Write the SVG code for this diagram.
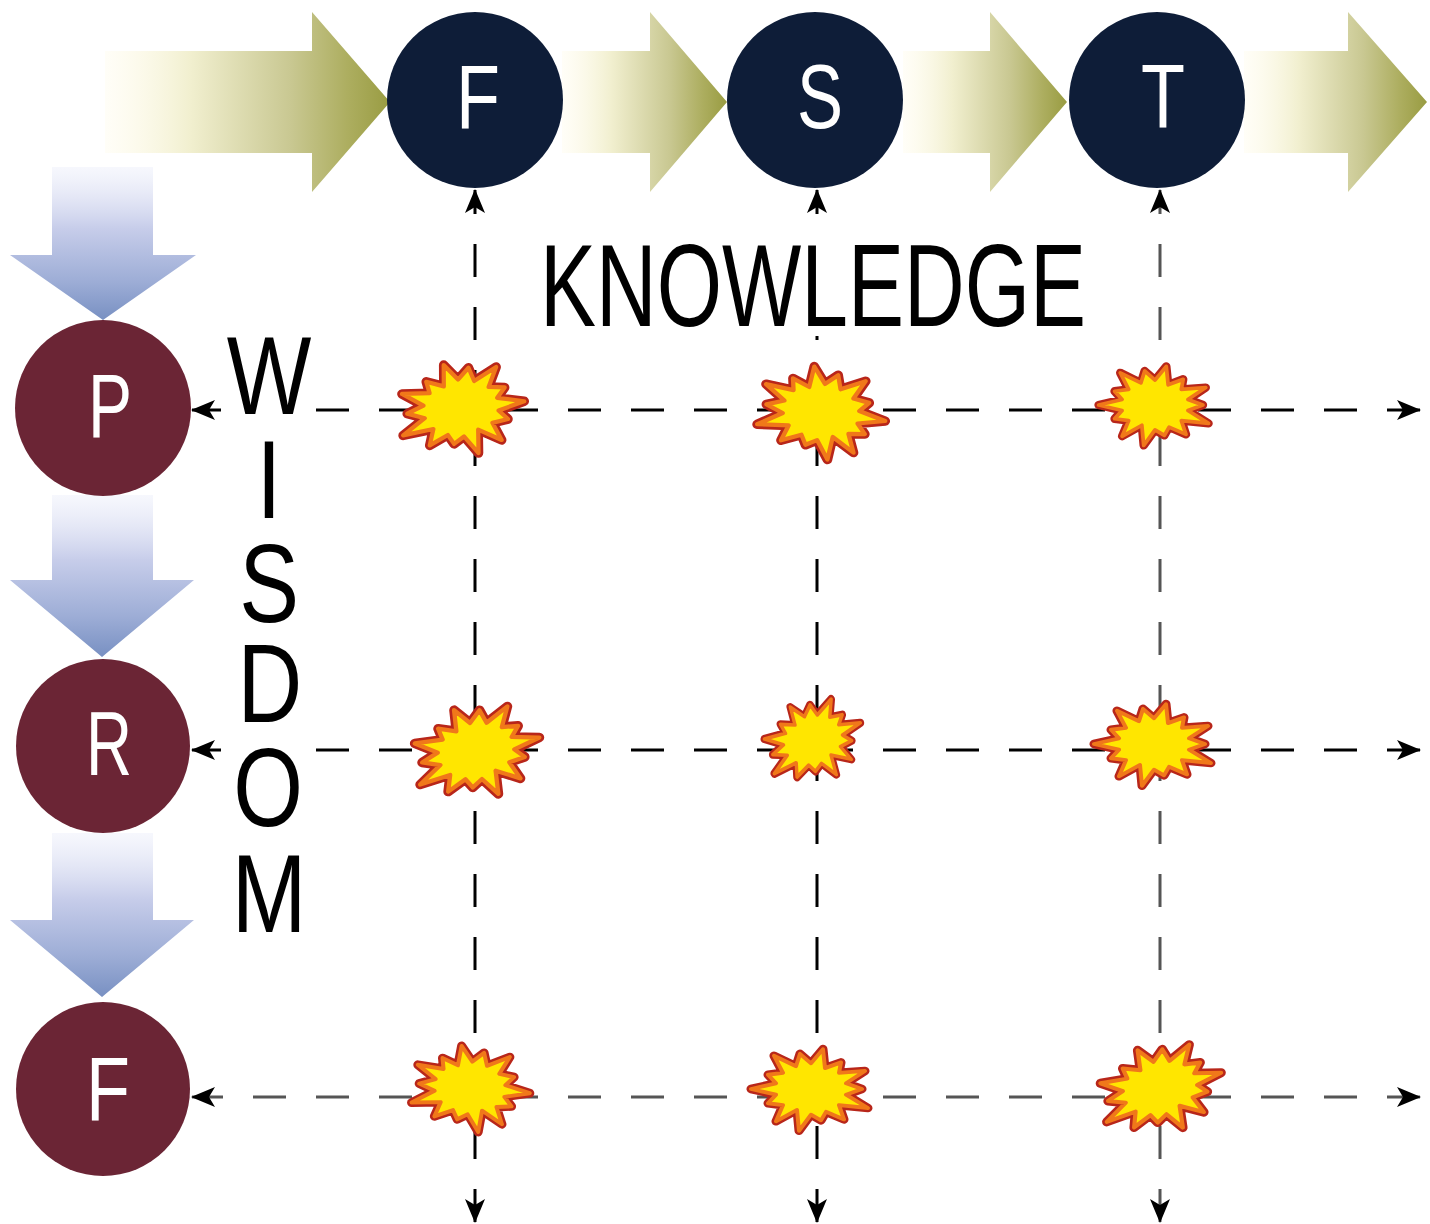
<svg xmlns="http://www.w3.org/2000/svg" xmlns:xlink="http://www.w3.org/1999/xlink" width="1430" height="1224" viewBox="0 0 1430 1224">
<style>
.knode{fill:#0e1d38}
.wnode{fill:#6b2535}
.nlabel{font-family:"Liberation Sans","DejaVu Sans",sans-serif;font-size:90px;fill:#ffffff;text-anchor:middle}
.big{font-family:"Liberation Sans","DejaVu Sans",sans-serif;fill:#000000}
.wis{font-size:112px;text-anchor:middle}
.dash{fill:none;stroke:#000;stroke-width:3;stroke-dasharray:33 30;marker-start:url(#ah);marker-end:url(#ah)}
.gray{stroke:#555555}
.harrow{fill:url(#gOlive)}
.varrow{fill:url(#gBlue)}
.b-out{fill:none;stroke:#b8261a;stroke-width:9;stroke-linejoin:round}
.b-in{fill:#ffe600;stroke:#f0781a;stroke-width:4;stroke-linejoin:round}
</style>
<defs>
<linearGradient id="gOlive" x1="0" y1="0" x2="1" y2="0">
<stop offset="0" stop-color="#fffbe6" stop-opacity="0.3"/>
<stop offset="0.3" stop-color="#f1efcf"/>
<stop offset="0.65" stop-color="#c9c892"/>
<stop offset="0.85" stop-color="#adae60"/>
<stop offset="1" stop-color="#999c42"/>
</linearGradient>
<linearGradient id="gBlue" x1="0" y1="0" x2="0" y2="1">
<stop offset="0" stop-color="#eef0fb" stop-opacity="0.5"/>
<stop offset="0.4" stop-color="#c7cdea"/>
<stop offset="0.75" stop-color="#9dadd6"/>
<stop offset="1" stop-color="#7890c2"/>
</linearGradient>
<marker id="ah" viewBox="0 -11 24 22" refX="23" refY="0" markerWidth="24" markerHeight="22" markerUnits="userSpaceOnUse" orient="auto-start-reverse">
<path d="M24,0 L0,-10 L6,0 L0,10 Z" fill="#000"/>
</marker>
<path id="bp" d="M60,0 L35,6 L43,15 L28,17 L35,34 L14,22 L12,44 L0,27 L-10,33 L-15,24 L-33,32 L-28,17 L-57,20 L-35,6 L-51,0 L-35,-6 L-54,-19 L-28,-17 L-30,-28 L-14,-22 L-12,-42 L0,-27 L11,-37 L15,-24 L37,-35 L28,-17 L43,-15 L35,-6 Z"/>
<g id="burst"><use href="#bp" class="b-out"/><use href="#bp" class="b-in"/></g>
</defs>
<rect x="0" y="0" width="1430" height="1224" fill="#ffffff"/>

<g id="flow-arrows">
<path class="harrow" d="M105,51 H312 V12 L390,102 L312,192 V153 H105 Z"/>
<path class="harrow" d="M562,51 H650 V12 L727,102 L650,192 V153 H562 Z"/>
<path class="harrow" d="M903,51 H990 V12 L1067,102 L990,192 V153 H903 Z"/>
<path class="harrow" d="M1244,51 H1348 V12 L1427,102 L1348,192 V153 H1244 Z"/>
<path class="varrow" d="M52,167 H153 V255 H196 L103,320 L10,255 H52 Z"/>
<path class="varrow" d="M52,495 H153 V580 H194 L102,657 L10,580 H52 Z"/>
<path class="varrow" d="M52,833 H153 V920 H194 L102,997 L10,920 H52 Z"/>
</g>

<g id="connectors">
<line class="dash" x1="475" y1="1222" x2="475" y2="190"/>
<line class="dash" x1="817" y1="1222" x2="817" y2="190"/>
<line class="dash gray" x1="1160" y1="1222" x2="1160" y2="190"/>
<line class="dash" x1="1420" y1="410" x2="192" y2="410"/>
<line class="dash" x1="1420" y1="750" x2="192" y2="750"/>
<line class="dash gray" x1="1420" y1="1097" x2="192" y2="1097"/>
</g>

<g id="node-kF"><circle class="knode" cx="475" cy="100" r="88"/><text class="nlabel" x="478" y="128" textLength="44" lengthAdjust="spacingAndGlyphs">F</text></g>
<g id="node-kS"><circle class="knode" cx="815" cy="100" r="88"/><text class="nlabel" x="820" y="128" textLength="46" lengthAdjust="spacingAndGlyphs">S</text></g>
<g id="node-kT"><circle class="knode" cx="1157" cy="100" r="88"/><text class="nlabel" x="1163" y="128" textLength="44" lengthAdjust="spacingAndGlyphs">T</text></g>
<g id="node-wP"><circle class="wnode" cx="103" cy="408" r="88"/><text class="nlabel" x="110" y="437" textLength="44" lengthAdjust="spacingAndGlyphs">P</text></g>
<g id="node-wR"><circle class="wnode" cx="103" cy="746" r="87"/><text class="nlabel" x="109" y="775" textLength="46" lengthAdjust="spacingAndGlyphs">R</text></g>
<g id="node-wF"><circle class="wnode" cx="103" cy="1089" r="87"/><text class="nlabel" x="108" y="1120" textLength="44" lengthAdjust="spacingAndGlyphs">F</text></g>

<g id="bursts">
<use href="#burst" transform="translate(461,408) rotate(-6) scale(1.06,1.06)"/>
<use href="#burst" transform="translate(821,412) rotate(8) scale(1.08,1.05)"/>
<use href="#burst" transform="translate(1155,405) scale(-0.94,0.92)"/>
<use href="#burst" transform="translate(476,751) rotate(-12) scale(1.08,1.06)"/>
<use href="#burst" transform="translate(813,740) rotate(-20) scale(0.84,0.92)"/>
<use href="#burst" transform="translate(1154,744) scale(-1.0,0.95)"/>
<use href="#burst" transform="translate(470,1088) rotate(5) scale(1.0,0.98)"/>
<use href="#burst" transform="translate(811,1089) scale(-1.0,0.95)"/>
<use href="#burst" transform="translate(1160,1088) rotate(-14) scale(1.05,1.0)"/>
</g>

<g id="label-knowledge">
<rect x="535" y="238" width="556" height="98" fill="#ffffff"/>
<text class="big" x="540" y="326" font-size="116" textLength="546" lengthAdjust="spacingAndGlyphs">KNOWLEDGE</text>
</g>
<g id="label-wisdom">
<rect x="221" y="326" width="93" height="612" fill="#ffffff"/>
<text class="big wis" transform="translate(269,0) scale(0.8,1)"><tspan x="0" y="414">W</tspan><tspan x="0" y="518">I</tspan><tspan x="0" y="622">S</tspan><tspan x="1" y="722">D</tspan><tspan x="-1" y="826">O</tspan><tspan x="0" y="932">M</tspan></text>
</g>
</svg>
